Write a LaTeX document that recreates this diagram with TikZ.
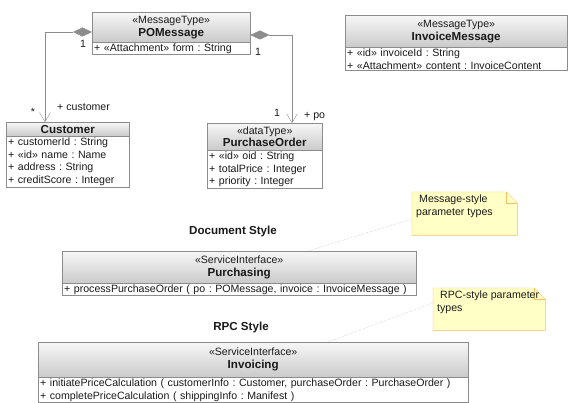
\documentclass[tikz,border=0pt]{standalone}
\usepackage{fontspec}
\setmainfont{Liberation Sans}
\usetikzlibrary{arrows.meta,calc,positioning}
\definecolor{umlline}{HTML}{8C8C8C}
\definecolor{umltop}{HTML}{F7F7F7}
\definecolor{umlbot}{HTML}{CACACA}
\definecolor{notefill}{HTML}{FFFFC6}
\definecolor{noteline}{HTML}{F2C063}
\definecolor{umltext}{HTML}{1A1A1A}
\frenchspacing
\newcommand{\umlfont}{\fontsize{10.6}{12.8}\selectfont}
\newcommand{\umlname}[1]{{\fontsize{11.6}{13}\selectfont\bfseries #1}}
\tikzset{umlhead/.style={draw=umlline, top color=umltop, bottom color=umlbot, anchor=north west, inner sep=1pt, align=center, font=\umlfont},
  umlattr/.style={draw=umlline, fill=white, anchor=north west, align=left, inner xsep=2pt, inner ysep=1pt, font=\umlfont},
  assoc/.style={draw=umlline, {Diamond[length=19pt,width=9pt,fill=umlline]}-{Straight Barb[length=9pt,width=11pt]}},
  mult/.style={font=\umlfont, inner sep=1pt},
  notebox/.style={anchor=north west, align=left, inner xsep=4pt, inner ysep=3pt, font=\umlfont},
  noteedge/.style={draw=noteline, fill=notefill},
  notelink/.style={draw=gray!60, densely dotted},
  caption/.style={font=\fontsize{11.6}{13}\selectfont\bfseries}}

\begin{document}
\begin{tikzpicture}[x=1pt, y=-1pt, color=umltext]
  \useasboundingbox (0,0) rectangle (572,403);
  % message types
  \node[umlhead, minimum width=158pt, minimum height=30pt] (pom) at (92,12) {«MessageType»\\\umlname{POMessage}};
  \node[umlattr, text width=154pt] (pomA) at (pom.south west) {+ «Attachment» form : String};
  \node[umlhead, minimum width=222pt, minimum height=32pt] (inv) at (345,15) {«MessageType»\\\umlname{InvoiceMessage}};
  \node[umlattr, text width=218pt] (invA) at (inv.south west) {+ «id» invoiceId : String\\+ «Attachment» content : InvoiceContent};
  % data types
  \node[umlhead, minimum width=123pt, minimum height=14pt] (cust) at (6,122) {\umlname{Customer}};
  \node[umlattr, text width=119pt] (custA) at (cust.south west) {+ customerId : String\\+ «id» name : Name\\+ address : String\\+ creditScore : Integer};
  \node[umlhead, minimum width=115pt, minimum height=27pt] (po) at (207,123) {«dataType»\\\umlname{PurchaseOrder}};
  \node[umlattr, text width=111pt] (poA) at (po.south west) {+ «id» oid : String\\+ totalPrice : Integer\\+ priority : Integer};
  % compositions
  \draw[assoc] ([yshift=-20pt]pom.north west) -| ([xshift=39pt]cust.north west);
  \draw[assoc] ([yshift=-23pt]pom.north east) -| ([xshift=85pt]po.north west);
  \node[mult] (m1) at (83,44) {1};
  \node[mult] (m2) at (33,112) {*};
  \node[mult, anchor=west] (r1) at (56,107) {+ customer};
  \node[mult] (m3) at (258,52) {1};
  \node[mult] (m4) at (277,113) {1};
  \node[mult, anchor=west] (r2) at (303,117) {+ po};
  % document style
  \node[caption] (doc) at (233,232) {Document Style};
  \node[umlhead, minimum width=354pt, minimum height=32pt] (purch) at (62,251) {«ServiceInterface»\\\umlname{Purchasing}};
  \node[umlattr, text width=350pt] (purchA) at (purch.south west) {+ processPurchaseOrder ( po : POMessage, invoice : InvoiceMessage )};
  % rpc style
  \node[caption] (rpc) at (241,327) {RPC Style};
  \node[umlhead, minimum width=430pt, minimum height=35pt] (invc) at (38,342) {«ServiceInterface»\\\umlname{Invoicing}};
  \node[umlattr, text width=426pt] (invcA) at (invc.south west) {+ initiatePriceCalculation ( customerInfo : Customer, purchaseOrder : PurchaseOrder )\\+ completePriceCalculation ( shippingInfo : Manifest )};
  % notes
  \node[notebox, minimum width=105pt, minimum height=43pt] (n1) at (412,192) {};
  \draw[noteedge] (n1.north west) -- ([xshift=-11pt]n1.north east) -- ([yshift=-11pt]n1.north east) -- (n1.south east) -- (n1.south west) -- cycle;
  \draw[noteline] ([xshift=-11pt]n1.north east) -- ([xshift=-11pt,yshift=-11pt]n1.north east) -- ([yshift=-11pt]n1.north east);
  \node[notebox] (n1t) at (n1.north west) {\hspace{3pt}Message-style\\parameter types};
  \node[notebox, minimum width=112pt, minimum height=42pt] (n2) at (433,288) {};
  \draw[noteedge] (n2.north west) -- ([xshift=-11pt]n2.north east) -- ([yshift=-11pt]n2.north east) -- (n2.south east) -- (n2.south west) -- cycle;
  \draw[noteline] ([xshift=-11pt]n2.north east) -- ([xshift=-11pt,yshift=-11pt]n2.north east) -- ([yshift=-11pt]n2.north east);
  \node[notebox] (n2t) at (n2.north west) {\hspace{3pt}RPC-style parameter\\types};
  \draw[notelink] ([yshift=-27pt]n1.north west) -- ([xshift=246pt]purch.north west);
  \draw[notelink] ([yshift=-15pt]n2.north west) -- ([xshift=290pt]invc.north west);
\end{tikzpicture}
\end{document}
